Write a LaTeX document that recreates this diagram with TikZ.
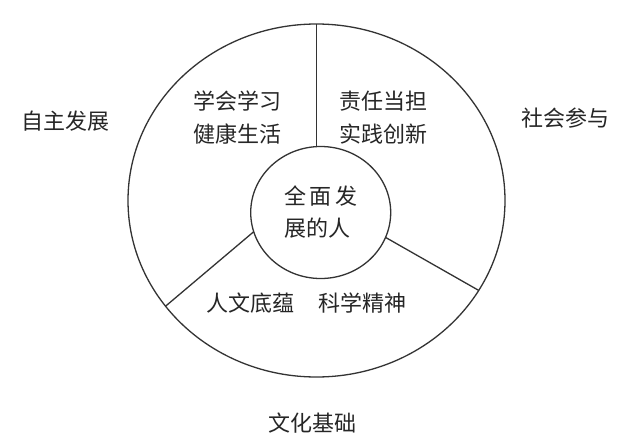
\documentclass[tikz,border=0pt]{standalone}
\usepackage{fontspec}
\newfontfamily\cjk{Noto Sans CJK SC}
\usetikzlibrary{shapes.geometric}
\definecolor{ink}{HTML}{262626}
\definecolor{linec}{HTML}{333333}
\tikzset{
  ring/.style={ellipse, draw=linec, line width=1.3pt, inner sep=0pt, outer sep=0pt},
  lbl/.style={inner sep=0pt, text=ink, font=\cjk\fontsize{22pt}{33pt}\selectfont, align=center},
  conn/.style={draw=linec, line width=1.3pt}
}
\begin{document}
\begin{tikzpicture}[x=1pt,y=-1pt]
\useasboundingbox (0,0) rectangle (640,442);
\fill[white] (0,0) rectangle (640,442);
\node[ring, minimum width=377pt, minimum height=353pt] (big) at (316.5,200.5) {};
\node[ring, minimum width=140pt, minimum height=132pt, align=left, text=ink,
      font=\cjk\fontsize{22pt}{32pt}\selectfont] (small) at (320.7,212.5)
      {全\hspace{3.5pt}面\hspace{3.5pt}发\\展的人};
\coordinate (vtop) at (big.north);
\coordinate (vbot) at (big.north |- small.north);
\draw[conn] (vtop) -- (vbot);
\draw[conn] (small.-21) -- (big.-29.2);
\draw[conn] (small.196) -- (big.215.4);
\node[lbl] (tl) at (237.5,117.5) {学会学习\\健康生活};
\node[lbl] (tr) at (383.8,117.5) {责任当担\\实践创新};
\node[lbl] (bl) at (250,303) {人文底蕴};
\node[lbl] (br) at (362,303) {科学精神};
\node[lbl] (left) at (65,121) {自主发展};
\node[lbl] (right) at (565,118) {社会参与};
\node[lbl] (bottom) at (312.5,423) {文化基础};
\end{tikzpicture}
\end{document}
